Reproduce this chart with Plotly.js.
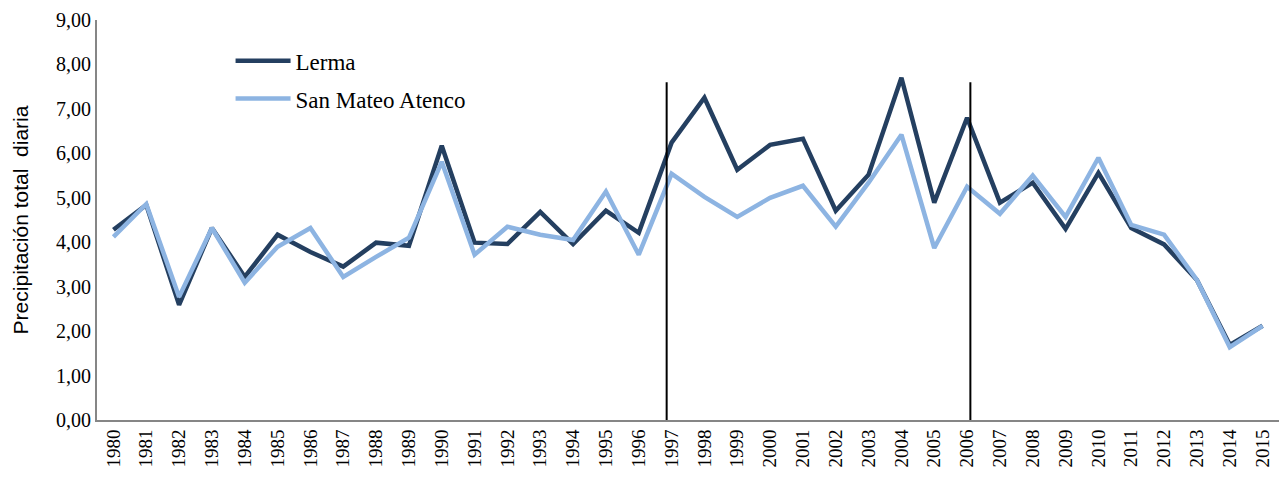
<!DOCTYPE html>
<html>
<head>
<meta charset="utf-8">
<script src="https://cdn.plot.ly/plotly-3.0.1.min.js"></script>
<style>html,body{margin:0;padding:0;background:#fff;}#chart{width:1279px;height:481px;}</style>
</head>
<body>
<div id="chart"></div>
<script>
const years = ['1980','1981','1982','1983','1984','1985','1986','1987','1988','1989','1990','1991','1992','1993','1994','1995','1996','1997','1998','1999','2000','2001','2002','2003','2004','2005','2006','2007','2008','2009','2010','2011','2012','2013','2014','2015'];
const lerma = [4.28,4.84,2.59,4.32,3.22,4.17,3.78,3.45,3.99,3.92,6.17,3.99,3.96,4.68,3.96,4.71,4.21,6.24,7.25,5.63,6.19,6.33,4.71,5.52,7.70,4.89,6.80,4.89,5.34,4.30,5.56,4.32,3.95,3.15,1.69,2.12];
const sanMateo = [4.12,4.86,2.77,4.32,3.09,3.90,4.32,3.22,3.67,4.10,5.81,3.72,4.35,4.17,4.05,5.14,3.72,5.54,5.02,4.57,5.00,5.27,4.35,5.34,6.42,3.87,5.25,4.64,5.50,4.57,5.90,4.39,4.17,3.15,1.64,2.12];
const seriesNames = ['Lerma','San Mateo Atenco'];
const markYears = ['1997','2006'];
const yTicks = [0,1,2,3,4,5,6,7,8,9];

const serif = 'Liberation Serif, Times New Roman, serif';
const traces = [
  {x: years, y: lerma, name: seriesNames[0], type: 'scatter', mode: 'lines',
   line: {color: '#243F60', width: 4.5}, legendgroup: 'a'},
  {x: years, y: sanMateo, name: seriesNames[1], type: 'scatter', mode: 'lines',
   line: {color: '#8DB4E2', width: 4.5}, legendgroup: 'b'}
];
const offs = [-0.15, 0.1];
const shapes = markYears.map((yr, i) => ({
  type: 'line', xref: 'x', yref: 'y',
  x0: years.indexOf(yr) + offs[i], x1: years.indexOf(yr) + offs[i],
  y0: -0.13, y1: 7.6,
  line: {color: '#000', width: 2}
}));
const layout = {
  width: 1279, height: 481,
  margin: {l: 97, r: 0, t: 20, b: 61},
  paper_bgcolor: '#fff', plot_bgcolor: '#fff',
  separators: ',.',
  showlegend: true,
  legend: {x: 0.113, y: 0.952, xanchor: 'left', yanchor: 'top',
    font: {family: serif, size: 23, color: '#000'}, itemwidth: 55,
    tracegroupgap: 5, bgcolor: 'rgba(0,0,0,0)'},
  xaxis: {type: 'category', range: [-0.5, 35.5], showgrid: false, zeroline: false,
    showline: true, linecolor: '#868686', linewidth: 2, ticks: '',
    tickangle: -90, tickfont: {family: serif, size: 19, color: '#000'}},
  yaxis: {range: [0, 9], tickvals: yTicks, tickformat: '.2f', showgrid: false, zeroline: false,
    showline: true, linecolor: '#868686', linewidth: 2, ticks: '',
    tickfont: {family: serif, size: 20, color: '#000'},
    title: {text: 'Precipitación total  diaria', font: {family: 'Liberation Sans, Arial, sans-serif', size: 21, color: '#000'}, standoff: 22}},
  shapes: shapes
};
Plotly.newPlot('chart', traces, layout, {displayModeBar: false, staticPlot: true});
</script>
</body>
</html>
